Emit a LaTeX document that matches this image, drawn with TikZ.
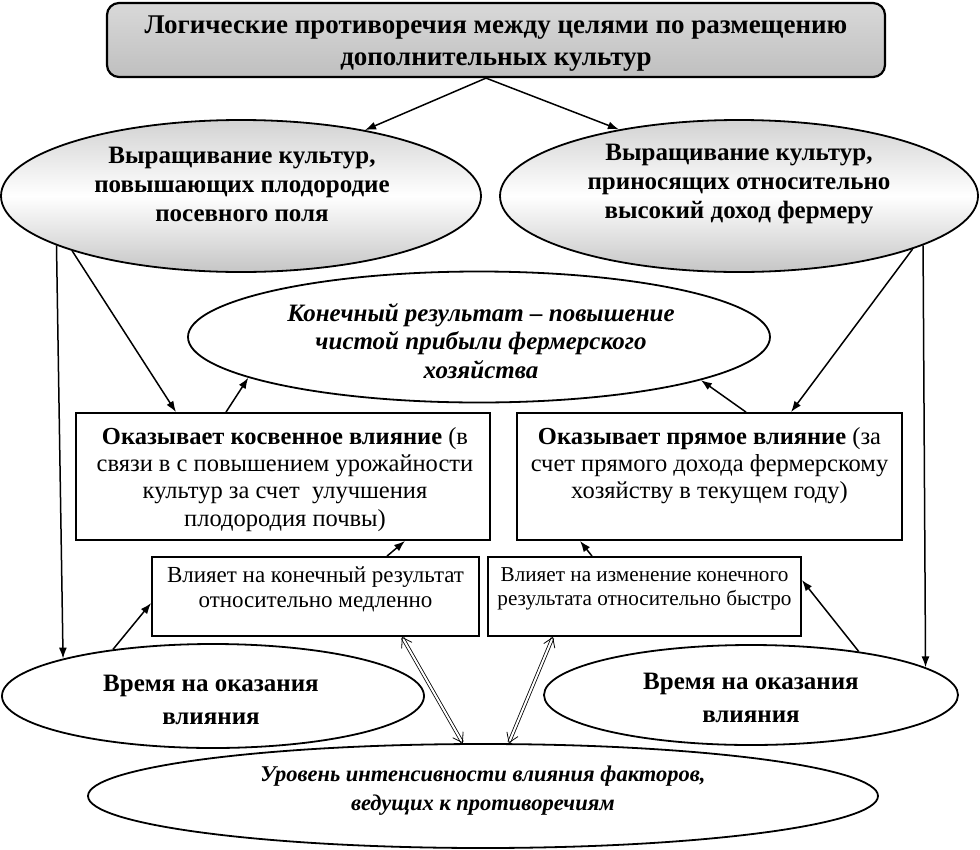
\documentclass[tikz,border=0pt]{standalone}
\usepackage{fontspec}
\setmainfont{Liberation Serif}
\usetikzlibrary{shapes.geometric,arrows.meta}
\begin{document}
\begin{tikzpicture}[x=1pt,y=-1pt,
  ell/.style={ellipse, draw, line width=1.8pt, inner sep=0pt},
  shell/.style={ell, top color=gray!35, bottom color=gray!45, middle color=white},
  boxn/.style={rectangle, draw, line width=1.8pt, inner sep=0pt},
  arr/.style={-{Latex[length=11pt,width=8pt]}, line width=1.5pt},
  dbl/.style={double, double distance=2pt, line width=0.8pt,
    {Straight Barb[length=9pt,width=12pt]}-{Straight Barb[length=9pt,width=12pt]}},
  btxt/.style={align=center, font=\fontsize{25}{29}\selectfont\bfseries},
  rtxt/.style={align=center, font=\fontsize{24.5}{27.2}\selectfont},
  stxt/.style={align=center, font=\fontsize{23}{25}\selectfont},
]
\useasboundingbox (0,0) rectangle (980,849);
\fill[white] (0,0) rectangle (980,849);

% top box
\node[boxn, rounded corners=12pt, top color=gray!30, middle color=white, bottom color=gray!50, line width=2.2pt,
  minimum width=778pt, minimum height=74pt] (top) at (496,40) {};
\node[align=center, font=\fontsize{27}{32}\selectfont\bfseries] (topt) at (496,44)
  {Логические противоречия между целями по размещению\\дополнительных культур};

% upper ellipses
\node[shell, minimum width=480pt, minimum height=152pt] (e1) at (241,196) {};
\node[btxt] (e1t) at (242,184) {Выращивание культур,\\повышающих плодородие\\посевного поля};
\node[shell, minimum width=478pt, minimum height=152pt] (e2) at (739,196) {};
\node[btxt] (e2t) at (739,184) {Выращивание культур,\\приносящих относительно\\высокий доход фермеру};

% result ellipse
\node[ell, minimum width=582pt, minimum height=131pt] (res) at (479,337) {};
\node[align=center, font=\fontsize{25}{28.5}\selectfont\bfseries\itshape] (rest) at (481,341)
  {Конечный результат -- повышение\\чистой прибыли фермерского\\хозяйства};

% boxes
\node[boxn, minimum width=414pt, minimum height=127pt] (b1) at (283,476.5) {};
\node[rtxt, anchor=north] (b1t) at (285,424)
  {\textbf{Оказывает косвенное влияние} (в\\связи в с повышением урожайности\\культур за счет\ \ улучшения\\плодородия почвы)};
\node[boxn, minimum width=385pt, minimum height=127pt] (b2) at (709.5,476.5) {};
\node[rtxt, anchor=north] (b2t) at (709.5,424)
  {\textbf{Оказывает прямое влияние} (за\\счет прямого дохода фермерскому\\хозяйству в текущем году)};

% small boxes
\node[boxn, minimum width=327pt, minimum height=79pt] (s1) at (315.5,596.5) {};
\node[stxt, anchor=north] (s1t) at (315.5,563) {Влияет на конечный результат\\относительно медленно};
\node[boxn, minimum width=313pt, minimum height=79pt] (s2) at (644.5,596.5) {};
\node[align=center, font=\fontsize{21.2}{24}\selectfont, anchor=north] (s2t) at (644.5,564)
  {Влияет на изменение конечного\\результата относительно быстро};

% time ellipses
\node[ell, minimum width=422pt, minimum height=104pt] (t1) at (213,696) {};
\node[align=center, font=\fontsize{25}{33}\selectfont\bfseries] (t1t) at (211,700) {Время на оказания\\влияния};
\node[ell, minimum width=414pt, minimum height=100pt] (t2) at (751,695) {};
\node[align=center, font=\fontsize{25}{33}\selectfont\bfseries] (t2t) at (751,698) {Время на оказания\\влияния};

% bottom ellipse
\node[ell, minimum width=790pt, minimum height=104pt] (lvl) at (483,796) {};
\node[align=center, font=\fontsize{22.5}{29}\selectfont\bfseries\itshape] (lvlt) at (483,791)
  {Уровень интенсивности влияния факторов,\\ведущих к противоречиям};

% connectors
\draw[arr] ([xshift=-10pt]top.south) -- (e1.28);
\draw[arr] ([xshift=-10pt]top.south) -- (e2.151);
\draw[arr] (e1.195.1) -- (t1.166.8);
\draw[arr] (e2.345.3) -- (t2.9.3);
\draw[arr] (e1.198) -- ([xshift=-107pt]b1.north);
\draw[arr] ([xshift=-57pt]b1.north) -- (res.190.7);
\draw[arr] (e2.343.5) -- ([xshift=81.5pt]b2.north);
\draw[arr] ([xshift=36.5pt]b2.north) -- (res.349.9);
\draw[arr] ([xshift=71.5pt]s1.north) -- ([xshift=122pt]b1.south);
\draw[arr] ([xshift=-52.5pt]s2.north) -- ([xshift=-129.5pt]b2.south);
\draw[arr] (t1.155.3) -- ([yshift=-6.5pt]s1.west);
\draw[arr] (t2.22.5) -- ([yshift=16.5pt]s2.east);
\draw[dbl] ([xshift=86.5pt]s1.south) -- (lvl.111.6);
\draw[dbl] ([xshift=-91.5pt]s2.south) -- (lvl.64.7);
\end{tikzpicture}
\end{document}
